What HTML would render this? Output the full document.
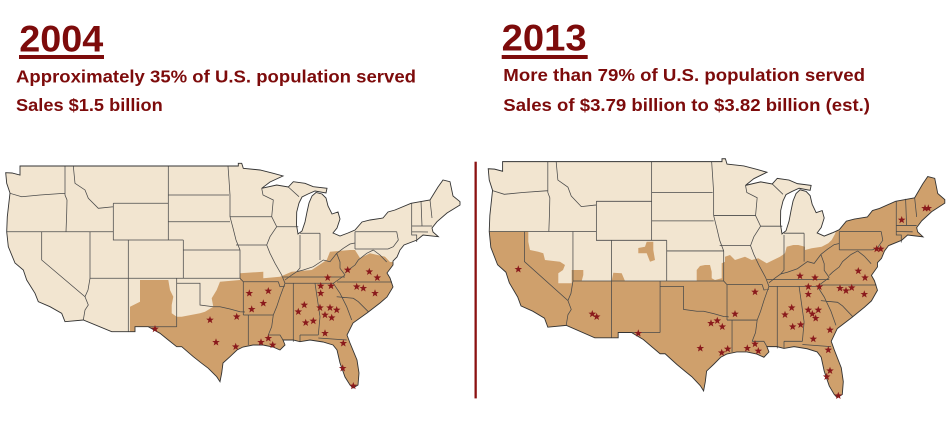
<!DOCTYPE html>
<html><head><meta charset="utf-8">
<style>
html,body{margin:0;padding:0;background:#fff;}
svg{display:block;}
text{font-family:"Liberation Sans",Arial,sans-serif;font-weight:bold;fill:#7d0b0b;}
</style></head>
<body>
<svg width="951" height="427" viewBox="0 0 951 427" xmlns="http://www.w3.org/2000/svg" xmlns:xlink="http://www.w3.org/1999/xlink">
<defs>
<path id="us" d="M5.7,172.7 L12,173 L20,175 L20,166 L238.3,166 L238.3,163.3 L241.7,163.3 L243.3,168.3 L260,170 L273.3,173.3 L283,176 L270,182 L261.7,188.3 L276.7,185 L288.3,187 L293.3,181.7 L305,183.3 L313.3,186.7 L327,188.3 L326,193 L315,191 L308,194 L302,197 L299,203 L296.7,212 L296.5,225 L298,234 L302,231 L305,222 L307,212 L309,203 L312,196 L316,192.5 L322,194 L326,198 L328,206 L332,214 L338,212 L340,219 L337,228 L333,233 L340,236 L348,233 L355,230 L362,222 L370,220 L383,218 L388,212 L395,210 L411,203.3 L430,200 L438,187 L443,180 L450,181.7 L453,196 L460,201.7 L460,205 L447,213 L437,221.7 L432,228 L433,232 L438.3,236.7 L423,235 L417,240 L404,245 L400,250 L397,257 L393,261 L393,265 L387,273 L390,278 L393,287 L387,297 L380,303 L367,313 L353,323 L347,335 L350,343 L357,360 L359,373 L358,385 L353,388 L350,385 L345,377 L340,363 L337,350 L333,345 L323,342 L310,340 L300,341.7 L293,340 L285,340 L283,340 L285,345 L280,350 L273,347 L263,345 L253,345 L243,347 L237,350 L230,356.7 L223,363 L221.7,373 L220,381.7 L216.7,376.7 L208.3,368.3 L201.7,363.3 L193.3,356.7 L181.7,346.7 L176.7,346.7 L168.3,340 L160,333.3 L148.3,326.7 L135,326.7 L135,331.7 L128.3,331.7 L111.7,331.7 L83.3,320 L65,321.7 L61.7,313.3 L50,306.7 L38.3,301.7 L35,293.3 L26.7,280 L23.3,270 L15,263 L8.3,246.7 L6.7,231.7 L7.3,216.7 L10,193 L6.7,183.3 Z"/>
<path id="states" fill="none" d="M10,193.3 L21.7,196.7 L40,195 L65,193.3 M65,166 L65,195 L67,200 L66.7,213.3 L66,231.7 M73.3,166 L75,183.3 L85,190 L88.3,198.3 L98.3,208.3 L113.3,206.7 M6.7,231.7 L113.3,231.7 M41.7,231.7 L41.7,260 L85,296.7 L88.3,305 L85,310 L83.3,320 M90,231.7 L90,278.3 L88,290 L85,296.7 M113.3,203.3 L168.3,203.3 M113.3,203.3 L113.3,240 L183.3,240 M168.3,166 L168.3,240 M168.3,195 L229,195 M168.3,221.7 L230,221.7 M128.3,240 L128.3,331.7 M183.3,240 L183.3,278.3 M183.3,250 L240,250 M90,278.3 L240,278.3 M176.7,278.3 L176.7,326.7 M176.7,283.3 L200,283.3 L200,305 L213.3,306.7 L220,306.7 L230,309 L240,311.7 L245,312 M148.3,326.7 L176.7,326.7 M228,166 L229,180 L230,195 L230,216.7 M230,216.7 L271.7,216.7 M230,216.7 L233,228 L236,240 L240,250 L240,278.3 L243.3,281.7 L243.3,315 M248.3,315 L248.3,345 M236,245 L266.7,245 M261.7,188.3 L263,195 L273.3,200 L271.7,216.7 L276.7,226.7 L270,236.7 L266.7,245 L270,253.3 L275,263.3 L281.7,275 L285,283.3 L280,296.7 L276.7,306.7 L273.3,315 L271.7,326.7 L268.3,335 M268.3,335 L280,335 L283,340 M243.3,315 L273.3,315 M243.3,281.7 L278.3,281.7 L280,286.7 L285,286 M276.7,226.7 L298.3,226.7 M288.3,187 L299,196.7 M300,235 L300,268 L296.7,271.7 M300,233.3 L320,233.3 M320,233.3 L320,260 M285,280 L291.7,275 L296.7,271.7 L303.3,270 L313.3,266.7 L323.3,260 L330,261.7 L336.7,253.3 L343.3,248.3 L350,244 L355,243 M355,231.7 L355,249 M283,277 L345,277 M337,282 L392,282 M345,275 L338,280 L333.3,283.3 M336.7,253.3 L340,262 L340,268.3 L345,275 M345,273 L348.3,270 L355,265 L358.3,260 L366.7,253.3 L373.3,250 M355,249 L388,249 M373.3,250 L380,255 L386.7,262 M285,283.3 L333.3,283.3 M293.3,283.3 L293.3,341.7 M315,283.3 L320,316.7 L318.3,335 M300,335 L318.3,335 M300,335 L300,341.7 M318.3,338 L346.7,340 M333.3,283.3 L340,293.3 L346.7,306.7 L351.7,320 M336.7,296.7 L353.3,298.3 L358.3,301.7 L368.3,311.7 M355,231.7 L396.7,231.7 M396.7,231.7 L398.3,240 L393.3,246.7 L388,249 M411.7,203.3 L411.7,235 L416.7,235 L416.7,242 M421,201 L422,226 M430,200 L432,218 M411.7,226 L432,226 M411.7,231.7 L428,232"/>
<marker id="star" markerUnits="userSpaceOnUse" markerWidth="10" markerHeight="10" viewBox="-5 -5 10 10" refX="0" refY="0" orient="0" overflow="visible">
<path d="M0,-4 L0.97,-1.34 L3.8,-1.24 L1.57,0.51 L2.35,3.24 L0,1.65 L-2.35,3.24 L-1.57,0.51 L-3.8,-1.24 L-0.97,-1.34 Z" fill="#8a1a1c"/>
</marker>
<clipPath id="c1"><use xlink:href="#us"/></clipPath>
<clipPath id="c2"><use xlink:href="#us" transform="matrix(1.005 0 0 1.063 482.5 -14.8)"/></clipPath>
</defs>

<text x="19.3" y="51.7" font-size="37" textLength="84" lengthAdjust="spacingAndGlyphs">2004</text>
<rect x="19" y="55" width="85" height="4" fill="#7d0b0b"/>
<text x="16" y="82.7" font-size="17.5" textLength="400" lengthAdjust="spacingAndGlyphs">Approximately 35% of U.S. population served</text>
<text x="16" y="111" font-size="17.5" textLength="146.7" lengthAdjust="spacingAndGlyphs">Sales $1.5 billion</text>

<text x="501.7" y="50.7" font-size="37" textLength="85" lengthAdjust="spacingAndGlyphs">2013</text>
<rect x="501.7" y="55" width="86" height="4" fill="#7d0b0b"/>
<text x="503.3" y="81" font-size="17.5" textLength="361.7" lengthAdjust="spacingAndGlyphs">More than 79% of U.S. population served</text>
<text x="503.3" y="111" font-size="17.5" textLength="366.7" lengthAdjust="spacingAndGlyphs">Sales of $3.79 billion to $3.82 billion (est.)</text>

<rect x="474.5" y="161.7" width="2.3" height="236.7" fill="#8b1212"/>

<use xlink:href="#us" fill="#f2e5d0"/>
<g clip-path="url(#c1)">
<path fill="#cfa06c" d="M120,345 L130,345 L130,306.7 L140,301.7 L140,280 L168.3,280 L170,290 L173.3,296.7 L171.7,305 L171.7,313.3 L176.7,316.7 L181.7,316.7 L200,313.3 L205,311.7 L213.3,306.7 L211.7,298.3 L216.7,290 L220,281.7 L240,280 L240,273.3 L263.3,271.7 L263.3,278.3 L280,276.7 L291.7,271.7 L311.7,270 L326.7,260 L330,251.7 L350,250 L355,250 L360,258 L370,253.3 L385,256.7 L390,262 L420,262 L420,420 L120,420 Z"/>
</g>
<use xlink:href="#states" stroke="#4a4a4a" stroke-width="0.75"/>
<use xlink:href="#us" fill="none" stroke="#333" stroke-width="0.9"/>
<polyline fill="none" stroke="none" marker-start="url(#star)" marker-mid="url(#star)" marker-end="url(#star)" points="155,329 210,320 236.7,316.7 216,342.3 235.7,346.7 249.3,293.3 268.3,291 263.3,303.3 251.7,309.3 261,342.3 268.3,338.3 272.7,345 304.3,305 298.3,311.7 305.7,322.7 313.3,321 320,307.7 330,307.7 336.7,310 325,315 331.7,317.7 325,333.3 320.7,286 331,286 320.7,293.3 327.7,277.7 347.7,270 369.3,271.7 377.3,277.7 356.7,286.7 363.3,288.3 375,293.3 343.3,343.3 342.7,368.3 353.3,386"/>

<use xlink:href="#us" fill="#f2e5d0" transform="matrix(1.005 0 0 1.063 482.5 -14.8)"/>
<g clip-path="url(#c2)">
<path fill="#cfa06c" d="M480,231.5 L528.3,231.5 L528.3,241.7 L530,250 L538.3,251.7 L543.3,253.3 L545,260 L560,261.7 L565,265 L563,270 L558.3,273.3 L558.3,283.3 L571.7,283.3 L571.7,270 L583.3,270 L583.3,275 L581.7,281 L611.7,281 L613.3,272.7 L621.7,273.3 L625,281 L696.7,281 L696.7,270 L700,266 L705,265 L710,265 L711.7,271.7 L711.7,278.3 L715,280 L721.7,278.3 L721.7,263.3 L725,261.7 L725,256.7 L730,255 L735,260 L745,256.7 L751.7,260 L758.3,258.3 L766.7,263.3 L773.3,260 L780,256.7 L785,253.3 L786.7,246.7 L793.3,245 L798.3,245 L805,246.7 L805,250 L811.7,248.3 L821.7,246.7 L828.3,243.3 L831.7,240 L835,234 L838,225 L845,200 L860,150 L960,150 L960,430 L480,430 Z"/>
<path fill="#cfa06c" d="M646.7,241.7 L653.3,241.7 L653.3,250 L655,260 L650,261.7 L646.7,253.3 L638.3,253.3 L638.3,248 L645,246.7 Z"/>
</g>
<use xlink:href="#states" stroke="#4a4a4a" stroke-width="0.75" transform="matrix(1.005 0 0 1.063 482.5 -14.8)"/>
<use xlink:href="#us" fill="none" stroke="#333" stroke-width="0.9" transform="matrix(1.005 0 0 1.063 482.5 -14.8)"/>
<polyline fill="none" stroke="none" marker-start="url(#star)" marker-mid="url(#star)" marker-end="url(#star)" points="518.3,269.3 592.3,314 596.7,316.7 638.3,333.3 711,323.3 700.3,348.3 717.3,320.7 722.3,326.7 735,314 755,292 721.7,352.7 727.7,349 747.3,348.3 755,344 758.3,351 785,314.7 791.7,307.7 792.7,326.7 800.7,324.7 808.3,310 812.3,314 815.7,318.3 818.3,310 830,330 813.3,339 828.3,350 830,370.7 826.7,376.7 838.3,395.7 800,276 815,277.7 808.3,286.7 819.3,286.7 808.3,294.3 840,288.3 846,290.7 851.7,287.7 864.3,294.3 858.3,271 865,277.7 876.7,249 880.7,249 901.7,220 925,208.3 928.3,208.3"/>
</svg>
</body></html>
